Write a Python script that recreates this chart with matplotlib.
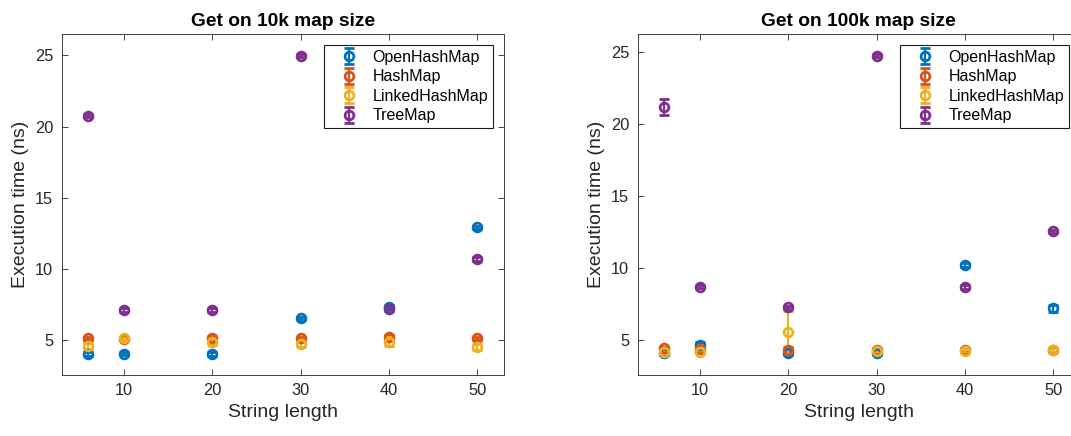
import matplotlib
matplotlib.use("Agg")
import matplotlib.pyplot as plt

plt.rcParams['font.family'] = ['Liberation Sans', 'DejaVu Sans']

# String lengths tested
string_length = [6, 10, 20, 30, 40, 50]
series_names = ["OpenHashMap", "HashMap", "LinkedHashMap", "TreeMap"]
colors = ["#0072BD", "#D95319", "#EDB120", "#7E2F8E"]

# Mean execution time (ns) and error, 10k map size
open_10k = [4.02, 4.04, 4.03, 6.52, 7.34, 12.92]
open_10k_err = [0.12, 0.12, 0.12, 0.12, 0.15, 0.12]
hash_10k = [5.12, 5.10, 5.12, 5.12, 5.20, 5.12]
hash_10k_err = [0.12, 0.12, 0.15, 0.12, 0.15, 0.12]
linked_10k = [4.58, 5.12, 4.88, 4.70, 4.88, 4.53]
linked_10k_err = [0.22, 0.12, 0.25, 0.2, 0.32, 0.2]
tree_10k = [20.76, 7.11, 7.11, 24.98, 7.15, 10.69]
tree_10k_err = [0.12, 0.12, 0.12, 0.1, 0.12, 0.12]

# Mean execution time (ns) and error, 100k map size
open_100k = [4.07, 4.65, 4.07, 4.07, 10.22, 7.20]
open_100k_err = [0.12, 0.22, 0.12, 0.12, 0.12, 0.25]
hash_100k = [4.42, 4.35, 4.30, 4.30, 4.30, 4.30]
hash_100k_err = [0.12, 0.12, 0.2, 0.12, 0.12, 0.12]
linked_100k = [4.20, 4.20, 5.53, 4.23, 4.23, 4.30]
linked_100k_err = [0.12, 0.12, 1.50, 0.12, 0.12, 0.12]
tree_100k = [21.18, 8.71, 7.27, 24.77, 8.68, 12.56]
tree_100k_err = [0.55, 0.12, 0.12, 0.1, 0.12, 0.12]

panels = [
    ("Get on 10k map size",
     [(open_10k, open_10k_err), (hash_10k, hash_10k_err),
      (linked_10k, linked_10k_err), (tree_10k, tree_10k_err)],
     (2.54, 26.5)),
    ("Get on 100k map size",
     [(open_100k, open_100k_err), (hash_100k, hash_100k_err),
      (linked_100k, linked_100k_err), (tree_100k, tree_100k_err)],
     (2.57, 26.27)),
]

W, H = 1071, 436
fig = plt.figure(figsize=(W / 100, H / 100), dpi=100)

axes_px = [(61.7, 34, 504, 375), (637.7, 34, 1080, 375)]
text_col = "#262626"

for (title, data, ylim), (x0, y0, x1, y1) in zip(panels, axes_px):
    ax = fig.add_axes([x0 / W, 1 - y1 / H, (x1 - x0) / W, (y1 - y0) / H])
    for (vals, errs), name, c in zip(data, series_names, colors):
        ax.errorbar(string_length, vals, yerr=errs, fmt='o', color=c,
                    ms=6.3, mew=2.0, mfc='none', elinewidth=1.6,
                    capsize=3.4, capthick=1.6, label=name)
    ax.set_xlim(3, 53)
    ax.set_ylim(*ylim)
    ax.set_xticks([10, 20, 30, 40, 50])
    ax.set_yticks([5, 10, 15, 20, 25])
    ax.tick_params(direction='in', length=4, width=0.6, top=True, right=True,
                   labelsize=11.8, colors=text_col, pad=6)
    for sp in ax.spines.values():
        sp.set_color("#404040")
        sp.set_linewidth(0.7)
    ax.set_title(title, fontsize=13.8, fontweight='bold', color='black', pad=6)
    ax.set_xlabel("String length", fontsize=14, color=text_col, labelpad=4)
    ax.set_ylabel("Execution time (ns)", fontsize=14, color=text_col, labelpad=4)
    leg = ax.legend(loc='upper right', fontsize=11.5, frameon=True, fancybox=False,
                    framealpha=1, edgecolor='#1a1a1a', borderpad=0.3,
                    handlelength=2.55, handletextpad=0.2, labelspacing=0.28,
                    borderaxespad=0.7)
    leg.get_frame().set_linewidth(0.8)

fig.savefig("out.png", dpi=100)
